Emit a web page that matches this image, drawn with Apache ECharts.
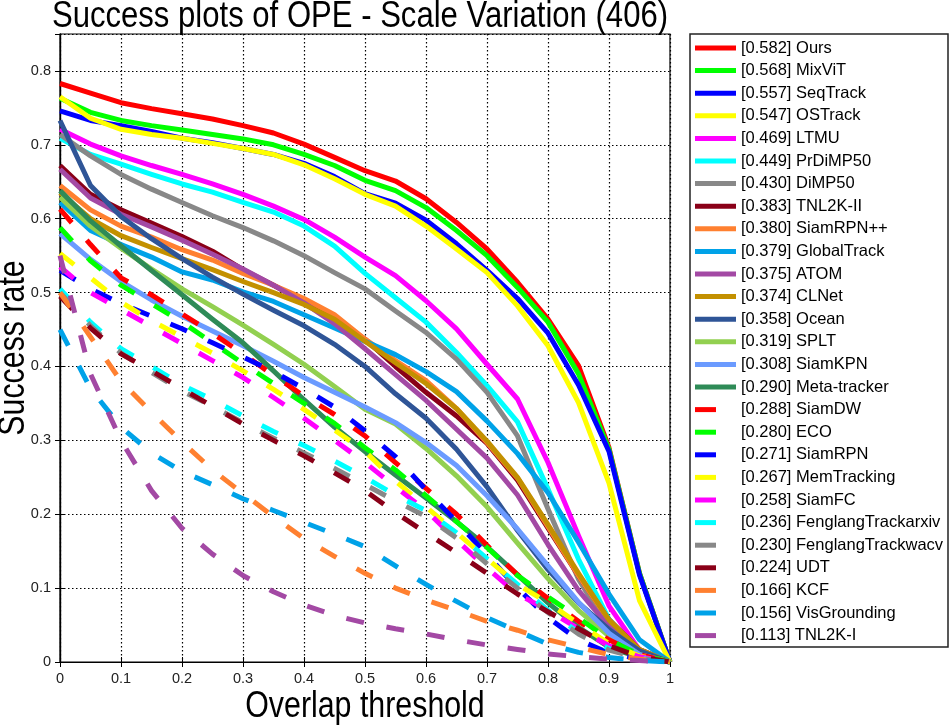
<!DOCTYPE html>
<html>
<head>
<meta charset="utf-8">
<title>Success plots of OPE - Scale Variation</title>
<script src="https://cdn.jsdelivr.net/npm/echarts@6/dist/echarts.min.js"></script>
<style>
  html, body { margin: 0; padding: 0; background: #fff; }
  #chart { width: 952px; height: 725px; }
</style>
</head>
<body>
<div id="chart"></div>
<script>
// overlap thresholds (x axis)
var thresholds = [0, 0.05, 0.1, 0.15, 0.2, 0.25, 0.3, 0.35, 0.4, 0.45, 0.5, 0.55, 0.6, 0.65, 0.7, 0.75, 0.8, 0.85, 0.9, 0.95, 1];
var xTicks = [0, 0.1, 0.2, 0.3, 0.4, 0.5, 0.6, 0.7, 0.8, 0.9, 1];
var yTicks = [0, 0.1, 0.2, 0.3, 0.4, 0.5, 0.6, 0.7, 0.8];

// success rate per tracker
var ours         = [0.783, 0.770, 0.757, 0.749, 0.742, 0.735, 0.726, 0.716, 0.701, 0.683, 0.665, 0.651, 0.627, 0.595, 0.559, 0.514, 0.464, 0.401, 0.290, 0.120, 0];
var mixvit       = [0.763, 0.744, 0.733, 0.726, 0.720, 0.714, 0.708, 0.700, 0.687, 0.672, 0.652, 0.638, 0.615, 0.584, 0.550, 0.507, 0.460, 0.390, 0.288, 0.120, 0];
var seqtrack     = [0.746, 0.733, 0.726, 0.718, 0.709, 0.703, 0.695, 0.687, 0.675, 0.657, 0.634, 0.621, 0.598, 0.566, 0.530, 0.492, 0.445, 0.375, 0.285, 0.118, 0];
var ostrack      = [0.765, 0.736, 0.721, 0.714, 0.709, 0.702, 0.695, 0.687, 0.673, 0.654, 0.633, 0.617, 0.590, 0.559, 0.527, 0.482, 0.428, 0.351, 0.242, 0.083, 0];
var ltmu         = [0.721, 0.701, 0.685, 0.672, 0.660, 0.647, 0.633, 0.617, 0.599, 0.575, 0.548, 0.523, 0.489, 0.451, 0.403, 0.356, 0.270, 0.171, 0.076, 0.016, 0];
var prdimp50     = [0.709, 0.687, 0.674, 0.660, 0.647, 0.636, 0.622, 0.609, 0.590, 0.563, 0.526, 0.493, 0.460, 0.419, 0.374, 0.325, 0.234, 0.139, 0.058, 0.012, 0];
var dimp50       = [0.714, 0.685, 0.660, 0.640, 0.622, 0.604, 0.588, 0.570, 0.550, 0.527, 0.505, 0.475, 0.446, 0.410, 0.365, 0.306, 0.207, 0.112, 0.045, 0.010, 0];
var tnl2kII      = [0.672, 0.633, 0.612, 0.594, 0.576, 0.556, 0.531, 0.510, 0.488, 0.463, 0.437, 0.400, 0.365, 0.333, 0.296, 0.246, 0.181, 0.117, 0.057, 0.017, 0];
var siamrpnpp    = [0.645, 0.612, 0.590, 0.575, 0.558, 0.544, 0.526, 0.510, 0.492, 0.470, 0.437, 0.408, 0.381, 0.343, 0.297, 0.249, 0.183, 0.117, 0.056, 0.016, 0];
var globaltrack  = [0.622, 0.584, 0.565, 0.548, 0.528, 0.517, 0.501, 0.488, 0.470, 0.452, 0.434, 0.416, 0.393, 0.366, 0.326, 0.282, 0.229, 0.162, 0.092, 0.030, 0];
var atom         = [0.667, 0.628, 0.606, 0.589, 0.571, 0.552, 0.532, 0.510, 0.486, 0.458, 0.424, 0.389, 0.354, 0.315, 0.276, 0.226, 0.159, 0.097, 0.048, 0.012, 0];
var clnet        = [0.635, 0.600, 0.577, 0.561, 0.546, 0.531, 0.515, 0.500, 0.484, 0.464, 0.434, 0.405, 0.377, 0.343, 0.299, 0.250, 0.186, 0.120, 0.057, 0.017, 0];
var ocean        = [0.733, 0.645, 0.603, 0.573, 0.546, 0.521, 0.498, 0.476, 0.455, 0.430, 0.400, 0.363, 0.330, 0.288, 0.237, 0.178, 0.125, 0.080, 0.044, 0.015, 0];
var splt         = [0.629, 0.590, 0.560, 0.532, 0.505, 0.481, 0.456, 0.430, 0.403, 0.373, 0.342, 0.322, 0.289, 0.252, 0.210, 0.161, 0.113, 0.070, 0.035, 0.010, 0];
var siamkpn      = [0.580, 0.545, 0.515, 0.490, 0.468, 0.448, 0.428, 0.407, 0.385, 0.365, 0.345, 0.324, 0.297, 0.266, 0.225, 0.180, 0.130, 0.081, 0.039, 0.010, 0];
var metatracker  = [0.638, 0.597, 0.563, 0.530, 0.497, 0.464, 0.432, 0.394, 0.355, 0.318, 0.285, 0.253, 0.222, 0.190, 0.156, 0.118, 0.080, 0.047, 0.020, 0.006, 0];
var siamdw       = [0.613, 0.565, 0.520, 0.497, 0.471, 0.445, 0.417, 0.388, 0.360, 0.335, 0.306, 0.270, 0.235, 0.200, 0.158, 0.118, 0.086, 0.055, 0.030, 0.010, 0];
var eco          = [0.588, 0.543, 0.510, 0.485, 0.460, 0.432, 0.404, 0.377, 0.350, 0.323, 0.290, 0.260, 0.225, 0.190, 0.155, 0.117, 0.088, 0.060, 0.030, 0.010, 0];
var siamrpn      = [0.530, 0.505, 0.485, 0.468, 0.451, 0.432, 0.413, 0.393, 0.370, 0.345, 0.313, 0.278, 0.233, 0.190, 0.145, 0.100, 0.060, 0.030, 0.012, 0.004, 0];
var memtracking  = [0.553, 0.520, 0.487, 0.462, 0.440, 0.418, 0.394, 0.369, 0.342, 0.314, 0.285, 0.245, 0.210, 0.175, 0.140, 0.105, 0.080, 0.052, 0.025, 0.008, 0];
var siamfc       = [0.535, 0.500, 0.477, 0.454, 0.431, 0.408, 0.385, 0.358, 0.330, 0.300, 0.270, 0.237, 0.205, 0.165, 0.127, 0.092, 0.070, 0.045, 0.022, 0.007, 0];
var fenglangArx  = [0.505, 0.460, 0.424, 0.400, 0.375, 0.355, 0.333, 0.312, 0.293, 0.272, 0.250, 0.226, 0.205, 0.175, 0.140, 0.105, 0.070, 0.040, 0.018, 0.005, 0];
var fenglangWacv = [0.500, 0.455, 0.418, 0.392, 0.367, 0.346, 0.324, 0.303, 0.283, 0.262, 0.240, 0.218, 0.197, 0.168, 0.133, 0.100, 0.067, 0.038, 0.016, 0.005, 0];
var udt          = [0.495, 0.452, 0.417, 0.394, 0.370, 0.346, 0.322, 0.300, 0.279, 0.256, 0.232, 0.202, 0.175, 0.148, 0.120, 0.092, 0.068, 0.045, 0.022, 0.007, 0];
var kcf          = [0.500, 0.440, 0.380, 0.338, 0.298, 0.260, 0.228, 0.197, 0.167, 0.143, 0.120, 0.100, 0.084, 0.070, 0.055, 0.043, 0.030, 0.020, 0.010, 0.004, 0];
var visgrounding = [0.450, 0.370, 0.318, 0.283, 0.258, 0.240, 0.221, 0.205, 0.189, 0.173, 0.156, 0.130, 0.105, 0.082, 0.060, 0.042, 0.024, 0.013, 0.006, 0.002, 0];
var tnl2kI       = [0.550, 0.390, 0.300, 0.232, 0.181, 0.146, 0.117, 0.095, 0.077, 0.063, 0.053, 0.045, 0.038, 0.030, 0.023, 0.017, 0.011, 0.007, 0.004, 0.002, 0];

// legend names and AUC scores, in legend order
var trackers = ['Ours', 'MixViT', 'SeqTrack', 'OSTrack', 'LTMU', 'PrDiMP50', 'DiMP50', 'TNL2K-II', 'SiamRPN++',
  'GlobalTrack', 'ATOM', 'CLNet', 'Ocean', 'SPLT', 'SiamKPN', 'Meta-tracker',
  'SiamDW', 'ECO', 'SiamRPN', 'MemTracking', 'SiamFC', 'FenglangTrackarxiv', 'FenglangTrackwacv', 'UDT', 'KCF', 'VisGrounding', 'TNL2K-I'];
var aucs = [0.582, 0.568, 0.557, 0.547, 0.469, 0.449, 0.430, 0.383, 0.380, 0.379, 0.375, 0.374, 0.358, 0.319, 0.308, 0.290,
  0.288, 0.280, 0.271, 0.267, 0.258, 0.236, 0.230, 0.224, 0.166, 0.156, 0.113];
var curves = [ours, mixvit, seqtrack, ostrack, ltmu, prdimp50, dimp50, tnl2kII, siamrpnpp, globaltrack, atom, clnet, ocean, splt, siamkpn, metatracker,
  siamdw, eco, siamrpn, memtracking, siamfc, fenglangArx, fenglangWacv, udt, kcf, visgrounding, tnl2kI];

// styling
var palette = ['#ff0000', '#00ff00', '#0000ff', '#ffff00', '#ff00ff', '#00ffff', '#888888', '#8a0018',
  '#ff8030', '#00a2e8', '#a349a4', '#c39000', '#2f5597', '#92d050', '#6b9bff', '#2e8b57'];
var nSolid = 16;
var bigFont = "'Liberation Sans', Arial, sans-serif";
var smallFont = "'Liberation Sans', Arial, sans-serif";

var chart = echarts.init(document.getElementById('chart'));

function label(i) {
  return '[' + aucs[i].toFixed(3) + '] ' + trackers[i];
}

var series = curves.map(function (vals, i) {
  var dashed = i >= nSolid;
  var color = palette[i % nSolid];
  return {
    name: label(i),
    type: 'line',
    data: thresholds.map(function (t, k) { return [t, vals[k]]; }),
    showSymbol: false,
    symbol: 'none',
    silent: true,
    itemStyle: { color: color },
    lineStyle: { color: color, width: 5, type: dashed ? [18, 23] : 'solid', cap: 'butt', join: 'round' }
  };
});

function tickText(v) {
  return String(Math.round(v * 10) / 10);
}

// big labels are a condensed Helvetica in the reference, so squeeze them a bit
function bigText(text, x, y, rot, squeeze) {
  return {
    type: 'text', x: x, y: y, rotation: rot || 0, scaleX: squeeze, silent: true,
    style: { text: text, fontSize: 37, fontFamily: bigFont, fill: '#000', align: 'center', verticalAlign: 'middle' }
  };
}

var axisTickStyle = { inside: true, length: 5, lineStyle: { color: '#000', width: 1 } };
var gridLine = { show: true, lineStyle: { type: [1.5, 2.5], color: '#000', width: 1.2 } };

var option = {
  animation: false,
  backgroundColor: '#fff',
  grid: {
    left: 60, right: 282, top: 34, bottom: 63,
    containLabel: false, outerBoundsMode: 'none',
    show: true, borderColor: '#000', borderWidth: 1.2, backgroundColor: '#fff'
  },
  legend: [
    {
      data: trackers.slice(0, nSolid).map(function (n, i) { return label(i); }),
      orient: 'vertical',
      left: 695, top: 39,
      padding: 0,
      itemWidth: 41, itemHeight: 5, itemGap: 4.6,
      icon: 'rect',
      selectedMode: false,
      textStyle: { fontSize: 16.5, fontFamily: smallFont, color: '#000', lineHeight: 18 }
    },
    {
      data: trackers.slice(nSolid).map(function (n, i) { return label(i + nSolid); }),
      orient: 'vertical',
      left: 695, top: 400.6,
      padding: 0,
      itemWidth: 21, itemHeight: 5, itemGap: 4.6,
      icon: 'rect',
      selectedMode: false,
      textStyle: { fontSize: 16.5, fontFamily: smallFont, color: '#000', lineHeight: 18, padding: [0, 0, 0, 20] }
    }
  ],
  graphic: [
    {
      type: 'rect',
      shape: { x: 690, y: 34, width: 258, height: 613 },
      style: { fill: 'none', stroke: '#222', lineWidth: 1.5 },
      silent: true
    },
    bigText('Success plots of OPE - Scale Variation (406)', 360, 17, 0, 0.84),
    bigText('Overlap threshold', 365, 707, 0, 0.82),
    bigText('Success rate', 14, 348, Math.PI / 2, 0.82)
  ],
  xAxis: [
    {
      type: 'value', min: 0, max: 1, interval: 0.1,
      axisLine: { show: true, lineStyle: { color: '#000', width: 1.2 } },
      axisTick: axisTickStyle,
      axisLabel: {
        fontSize: 14.5, fontFamily: smallFont, color: '#222', margin: 9,
        formatter: function (v) { return xTicks.indexOf(Math.round(v * 10) / 10) >= 0 ? tickText(v) : ''; }
      },
      splitLine: gridLine
    },
    {
      type: 'value', position: 'top', min: 0, max: 1, interval: 0.1,
      axisLine: { show: true, lineStyle: { color: '#000', width: 1.2 } },
      axisTick: axisTickStyle,
      axisLabel: { show: false },
      splitLine: { show: false }
    }
  ],
  yAxis: [
    {
      type: 'value', min: 0, max: 0.85, interval: 0.1,
      axisLine: { show: true, lineStyle: { color: '#000', width: 1.2 } },
      axisTick: axisTickStyle,
      axisLabel: {
        fontSize: 14.5, fontFamily: smallFont, color: '#222', margin: 9, showMaxLabel: false,
        formatter: function (v) { return yTicks.indexOf(Math.round(v * 10) / 10) >= 0 && v < 0.84 ? tickText(v) : ''; }
      },
      splitLine: gridLine
    },
    {
      type: 'value', position: 'right', min: 0, max: 0.85, interval: 0.1,
      axisLine: { show: true, lineStyle: { color: '#000', width: 1.2 } },
      axisTick: axisTickStyle,
      axisLabel: { show: false },
      splitLine: { show: false }
    }
  ],
  series: series
};

chart.setOption(option);
</script>
</body>
</html>
